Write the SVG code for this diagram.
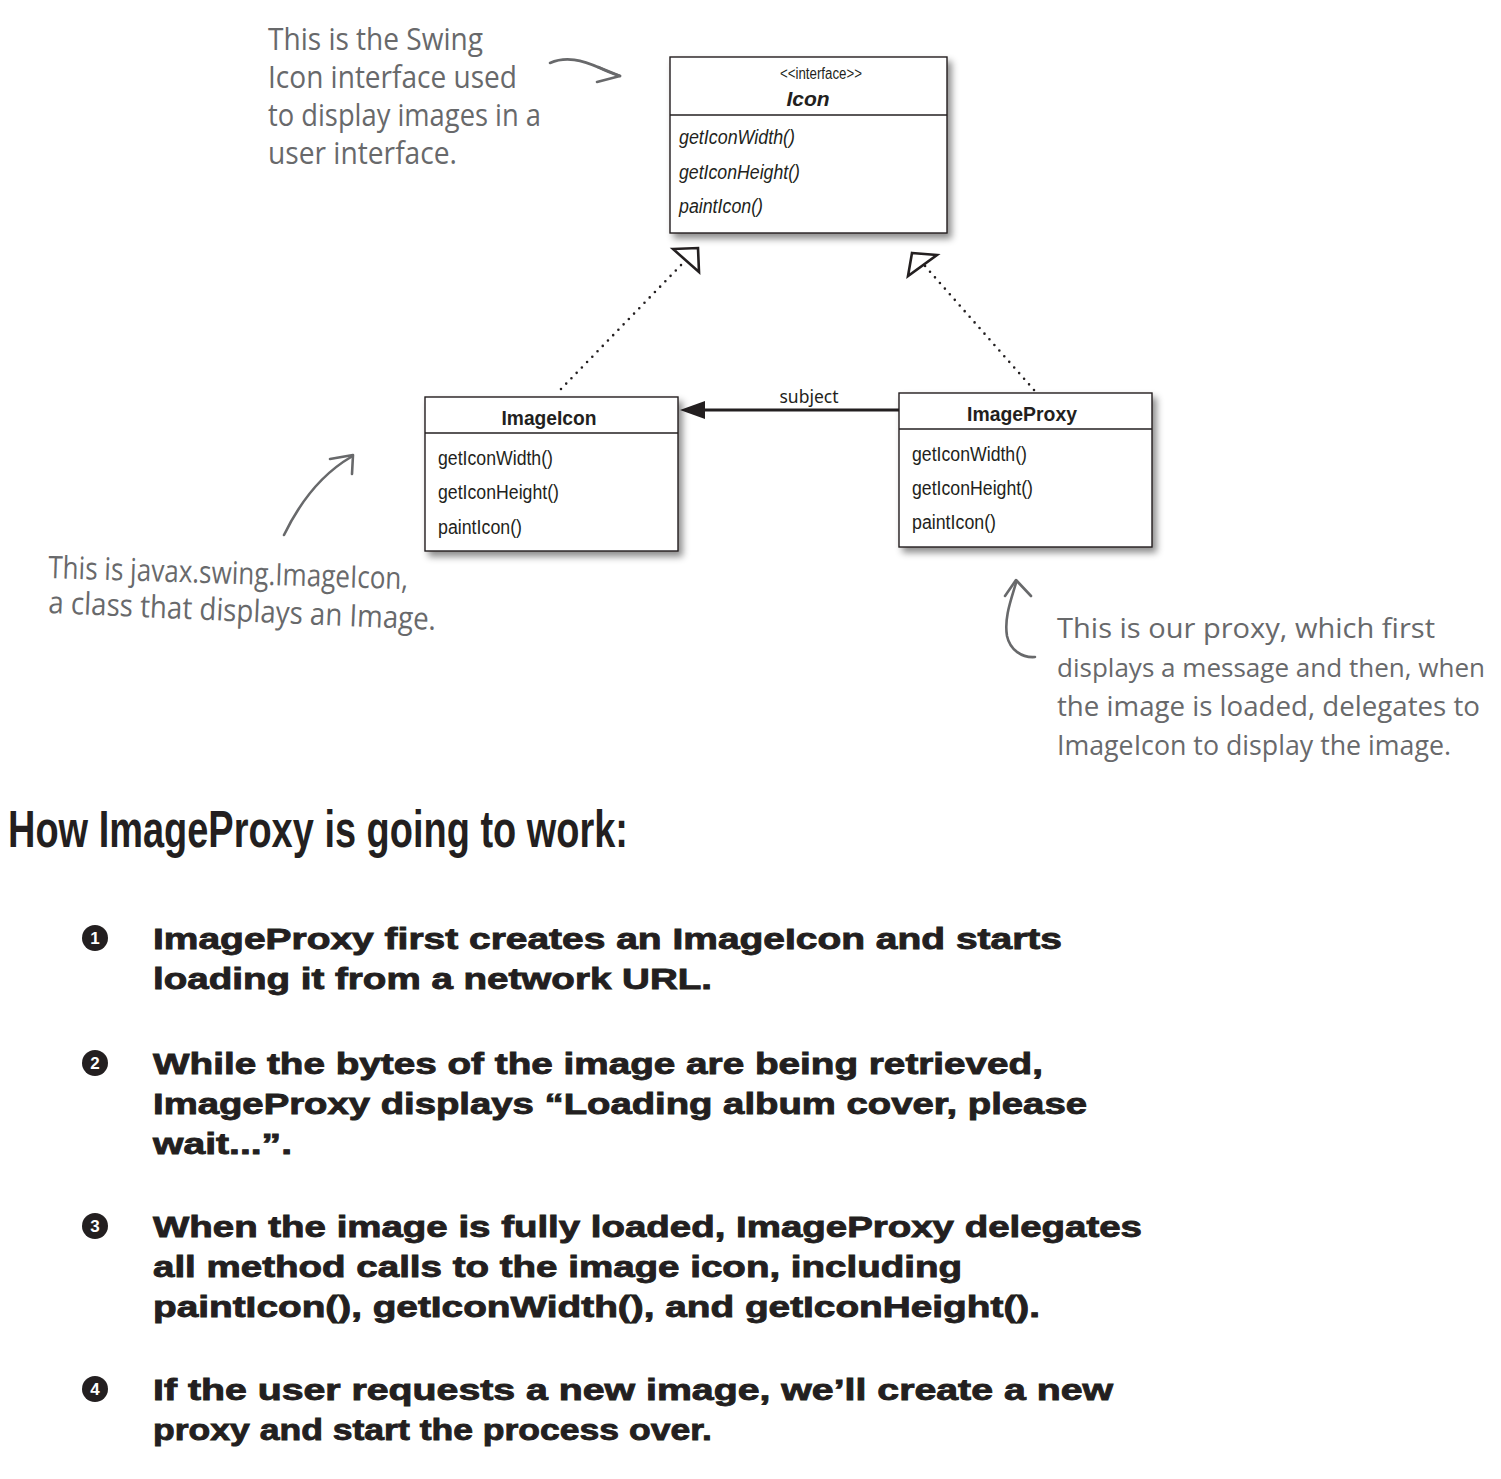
<svg xmlns="http://www.w3.org/2000/svg" width="1501" height="1479" viewBox="0 0 1501 1479">
<defs>
<filter id="sh" x="-10%" y="-10%" width="130%" height="130%">
<feDropShadow dx="4" dy="5" stdDeviation="3.5" flood-color="#000" flood-opacity="0.45"/>
</filter>
<style>
.box{fill:#fff;stroke:#231f20;stroke-width:1.4}
.div{stroke:#231f20;stroke-width:1.4}
.uml{font-family:"Liberation Sans",Arial,sans-serif;font-size:19.5px;fill:#231f20}
.it{font-style:italic}
.hd{font-weight:bold;font-size:21px;text-anchor:middle}
.hand{font-family:"Open Sans","Liberation Sans",sans-serif;font-size:31px;fill:#68696b}
.hand2{font-size:28px}
.hand3{font-size:26px}
.harrow{fill:none;stroke:#68696b;stroke-width:2.6;stroke-linecap:round;stroke-linejoin:round}
.dots{fill:none;stroke:#231f20;stroke-width:2.6;stroke-linecap:round;stroke-dasharray:0 7.5}
.tri{fill:#fff;stroke:#231f20;stroke-width:2.6;stroke-linejoin:miter}
.blk{font-family:"Liberation Sans",Arial,sans-serif;font-weight:bold;font-size:30px;fill:#231f20;stroke:#231f20;stroke-width:0.9}
.num{fill:#231f20}
.numt{font-family:"Liberation Sans",Arial,sans-serif;font-weight:bold;font-size:17px;fill:#fff;text-anchor:middle}
</style>
</defs>
<rect width="1501" height="1479" fill="#fff"/>

<g id="connectors">
<path class="dots" d="M561,389 L684,262"/>
<polygon class="tri" points="673,249 698,248 699,272"/>
<path class="dots" d="M1034,390 L925,266"/>
<polygon class="tri" points="912,253 937,255 908,276"/>
<line x1="899" y1="410" x2="700" y2="410" stroke="#231f20" stroke-width="3"/>
<polygon points="680,410 705,401 705,419" fill="#231f20"/>
<text x="809" y="403" text-anchor="middle" font-family="'Noto Sans','Open Sans',sans-serif" font-size="17.5" fill="#231f20">subject</text>
</g>

<g id="icon">
<rect class="box" x="670" y="57" width="277" height="176" filter="url(#sh)"/>
<line class="div" x1="670" y1="115" x2="947" y2="115"/>
<text class="uml" x="780" y="79" style="font-size:16px" textLength="82" lengthAdjust="spacingAndGlyphs">&lt;&lt;interface&gt;&gt;</text>
<text class="uml it hd" x="808" y="106" style="font-size:21px">Icon</text>
<text class="uml it" x="679" y="144" textLength="116" lengthAdjust="spacingAndGlyphs">getIconWidth()</text>
<text class="uml it" x="679" y="179" textLength="121" lengthAdjust="spacingAndGlyphs">getIconHeight()</text>
<text class="uml it" x="679" y="213" textLength="84" lengthAdjust="spacingAndGlyphs">paintIcon()</text>
</g>

<g id="imageicon">
<rect class="box" x="425" y="397" width="253" height="154" filter="url(#sh)"/>
<line class="div" x1="425" y1="433" x2="678" y2="433"/>
<text class="uml hd" x="549" y="425" textLength="95" lengthAdjust="spacingAndGlyphs">ImageIcon</text>
<text class="uml" x="438" y="465" textLength="115" lengthAdjust="spacingAndGlyphs">getIconWidth()</text>
<text class="uml" x="438" y="499" textLength="121" lengthAdjust="spacingAndGlyphs">getIconHeight()</text>
<text class="uml" x="438" y="534" textLength="84" lengthAdjust="spacingAndGlyphs">paintIcon()</text>
</g>

<g id="imageproxy">
<rect class="box" x="899" y="393" width="253" height="154" filter="url(#sh)"/>
<line class="div" x1="899" y1="429" x2="1152" y2="429"/>
<text class="uml hd" x="1022" y="421" textLength="110" lengthAdjust="spacingAndGlyphs">ImageProxy</text>
<text class="uml" x="912" y="461" textLength="115" lengthAdjust="spacingAndGlyphs">getIconWidth()</text>
<text class="uml" x="912" y="495" textLength="121" lengthAdjust="spacingAndGlyphs">getIconHeight()</text>
<text class="uml" x="912" y="529" textLength="84" lengthAdjust="spacingAndGlyphs">paintIcon()</text>
</g>

<g id="note-icon">
<text class="hand" x="268" y="50" textLength="215" lengthAdjust="spacingAndGlyphs">This is the Swing</text>
<text class="hand" x="268" y="88" textLength="249" lengthAdjust="spacingAndGlyphs">Icon interface used</text>
<text class="hand" x="268" y="126" textLength="273" lengthAdjust="spacingAndGlyphs">to display images in a</text>
<text class="hand" x="268" y="164" textLength="189" lengthAdjust="spacingAndGlyphs">user interface.</text>
<path class="harrow" d="M550,63 C566,56 582,60 600,68 C608,72 614,74 620,76"/>
<path class="harrow" d="M598,67 L620,76 L597,82"/>
</g>

<g id="note-imageicon">
<text class="hand" x="48" y="578" textLength="360" lengthAdjust="spacingAndGlyphs" transform="rotate(1.8 48 578)">This is javax.swing.ImageIcon,</text>
<text class="hand" x="48" y="613" textLength="388" lengthAdjust="spacingAndGlyphs" transform="rotate(2.5 48 613)">a class that displays an Image.</text>
<path class="harrow" d="M284,535 C300,502 322,474 351,457"/>
<path class="harrow" d="M330,459 L353,455 L352,474"/>
</g>

<g id="note-proxy">
<text class="hand hand2" x="1057" y="638" textLength="378" lengthAdjust="spacingAndGlyphs">This is our proxy, which first</text>
<text class="hand hand3" x="1057" y="677" textLength="428" lengthAdjust="spacingAndGlyphs">displays a message and then, when</text>
<text class="hand hand2" x="1057" y="716" textLength="423" lengthAdjust="spacingAndGlyphs">the image is loaded, delegates to</text>
<text class="hand hand2" x="1057" y="755" textLength="394" lengthAdjust="spacingAndGlyphs">ImageIcon to display the image.</text>
<path class="harrow" d="M1016,583 C1011,600 1004,618 1007,636 C1010,650 1022,658 1035,657"/>
<path class="harrow" d="M1005,596 L1016,580 L1031,596"/>
</g>

<g id="heading">
<text x="8" y="847" font-family="'Liberation Sans',Arial,sans-serif" font-weight="bold" font-size="52" fill="#231f20" textLength="620" lengthAdjust="spacingAndGlyphs">How ImageProxy is going to work:</text>
</g>

<g id="step1">
<circle class="num" cx="95" cy="938" r="13"/>
<text class="numt" x="95" y="944">1</text>
<text class="blk" x="153" y="949" textLength="909" lengthAdjust="spacingAndGlyphs">ImageProxy first creates an ImageIcon and starts</text>
<text class="blk" x="153" y="989" textLength="559" lengthAdjust="spacingAndGlyphs">loading it from a network URL.</text>
</g>

<g id="step2">
<circle class="num" cx="95" cy="1063" r="13"/>
<text class="numt" x="95" y="1069">2</text>
<text class="blk" x="153" y="1074" textLength="890" lengthAdjust="spacingAndGlyphs">While the bytes of the image are being retrieved,</text>
<text class="blk" x="153" y="1114" textLength="934" lengthAdjust="spacingAndGlyphs">ImageProxy displays  “Loading album cover, please</text>
<text class="blk" x="153" y="1154" textLength="139" lengthAdjust="spacingAndGlyphs">wait...”.</text>
</g>

<g id="step3">
<circle class="num" cx="95" cy="1226" r="13"/>
<text class="numt" x="95" y="1232">3</text>
<text class="blk" x="153" y="1237" textLength="989" lengthAdjust="spacingAndGlyphs">When the image is fully loaded, ImageProxy delegates</text>
<text class="blk" x="153" y="1277" textLength="809" lengthAdjust="spacingAndGlyphs">all method calls to the image icon, including</text>
<text class="blk" x="153" y="1317" textLength="887" lengthAdjust="spacingAndGlyphs">paintIcon(), getIconWidth(), and getIconHeight().</text>
</g>

<g id="step4">
<circle class="num" cx="95" cy="1389" r="13"/>
<text class="numt" x="95" y="1395">4</text>
<text class="blk" x="153" y="1400" textLength="960" lengthAdjust="spacingAndGlyphs">If the user requests a new image, we’ll create a new</text>
<text class="blk" x="153" y="1440" textLength="559" lengthAdjust="spacingAndGlyphs">proxy and start the process over.</text>
</g>
</svg>
